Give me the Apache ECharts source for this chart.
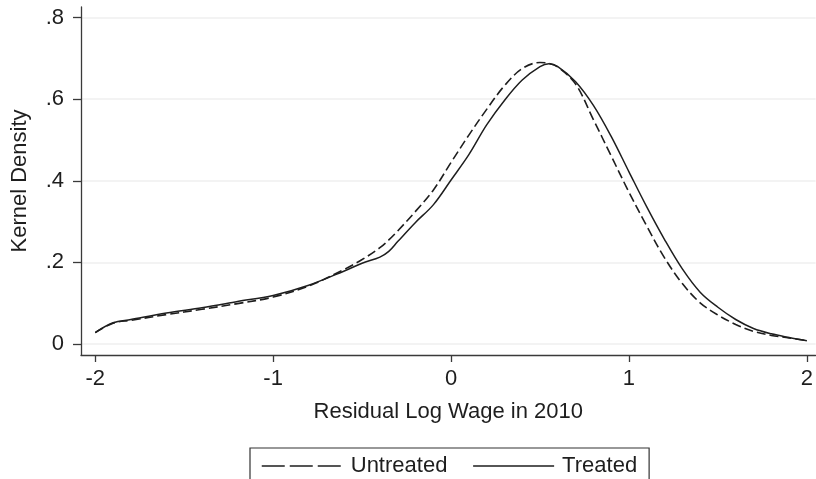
<!DOCTYPE html>
<html>
<head>
<meta charset="utf-8">
<title>Kernel Density of Residual Log Wage in 2010</title>
<script src="https://cdn.jsdelivr.net/npm/echarts@6/dist/echarts.min.js"></script>
<style>
  html, body { margin: 0; padding: 0; background: #ffffff; }
  #chart { width: 816px; height: 479px; }
</style>
</head>
<body>
<div id="chart"></div>
<script>
// Residual log wage grid (x) and kernel density estimates for each group
const wageGrid = [-2.0, -1.9, -1.8, -1.6, -1.4, -1.2, -1.0, -0.8, -0.6, -0.5, -0.4, -0.35, -0.3, -0.2, -0.1, 0.0,
  0.1, 0.2, 0.3, 0.4, 0.5, 0.55, 0.6, 0.7, 0.8, 0.9, 1.0, 1.1, 1.2, 1.3, 1.4, 1.5, 1.6, 1.7, 1.8, 1.9, 2.0];

const untreatedDensity = [0.028, 0.051, 0.058, 0.072, 0.085, 0.099, 0.115, 0.142, 0.183, 0.207, 0.236, 0.255, 0.277, 0.325, 0.377, 0.445,
  0.512, 0.575, 0.633, 0.675, 0.690, 0.688, 0.679, 0.637, 0.550, 0.461, 0.372, 0.289, 0.211, 0.148, 0.101, 0.071, 0.048, 0.031, 0.021, 0.015, 0.008];

const treatedDensity = [0.028, 0.052, 0.060, 0.076, 0.089, 0.104, 0.119, 0.144, 0.179, 0.198, 0.213, 0.227, 0.251, 0.298, 0.341, 0.402,
  0.464, 0.537, 0.597, 0.647, 0.680, 0.687, 0.680, 0.643, 0.585, 0.509, 0.422, 0.336, 0.256, 0.184, 0.127, 0.090, 0.060, 0.038, 0.025, 0.016, 0.008];

const xTicks = [-2, -1, 0, 1, 2];
const yTicks = [0, 0.2, 0.4, 0.6, 0.8];

const seriesNames = ['Untreated', 'Treated'];
const xTitle = 'Residual Log Wage in 2010';
const yTitle = 'Kernel Density';

const FONT = '"Liberation Sans", Arial, Helvetica, sans-serif';
const INK = '#1e1e1e';
const AXIS = '#3a3a3a';

function pairs(xs, ys) {
  return xs.map((x, i) => [x, ys[i]]);
}

function stataNumber(v) {
  // 0.2 -> ".2", 0 -> "0"
  if (v === 0) return '0';
  const s = String(Math.round(v * 10) / 10);
  return s.replace(/^0\./, '.').replace(/^-0\./, '-.');
}

const chart = echarts.init(document.getElementById('chart'), null, { renderer: 'canvas' });

// legend keys are plain line samples, without a marker in the middle
const hiddenMarker = { opacity: 0 };

chart.setOption({
  backgroundColor: '#ffffff',
  animation: false,
  textStyle: { fontFamily: FONT },
  grid: { left: 81, right: 0, top: 7, bottom: 124, containLabel: false },
  xAxis: {
    type: 'value',
    min: -2.08,
    max: 2.049,
    name: xTitle,
    nameLocation: 'middle',
    nameGap: 46,
    nameTextStyle: { fontSize: 22, color: INK, fontFamily: FONT },
    axisLine: { show: true, onZero: false, lineStyle: { color: AXIS, width: 1.3 } },
    axisTick: { show: true, length: 7, customValues: xTicks, lineStyle: { color: AXIS, width: 1.3 } },
    axisLabel: {
      show: true, customValues: xTicks, margin: 13, fontSize: 22, color: INK, fontFamily: FONT,
      formatter: v => String(v)
    },
    splitLine: { show: false }
  },
  yAxis: {
    type: 'value',
    min: -0.027,
    max: 0.826,
    name: yTitle,
    nameLocation: 'middle',
    nameRotate: 90,
    nameGap: 50,
    nameTextStyle: { fontSize: 22, color: INK, fontFamily: FONT },
    axisLine: { show: true, onZero: false, lineStyle: { color: AXIS, width: 1.3 } },
    axisTick: { show: true, length: 8, customValues: yTicks, lineStyle: { color: AXIS, width: 1.3 } },
    axisLabel: {
      show: true, customValues: yTicks, margin: 17, fontSize: 22, color: INK, fontFamily: FONT,
      formatter: v => stataNumber(v)
    },
    splitLine: { show: true, lineStyle: { color: '#efefef', width: 1.5 } }
  },
  legend: {
    left: 250,
    top: 448,
    orient: 'horizontal',
    padding: [7, 12, 30, 11],
    borderColor: '#333333',
    borderWidth: 1.2,
    itemGap: 25,
    itemWidth: 81,
    itemHeight: 14,
    textStyle: { fontSize: 22, color: INK, fontFamily: FONT, padding: [0, 0, 0, 3] },
    data: [
      { name: seriesNames[0], itemStyle: hiddenMarker, lineStyle: { type: [23, 5], width: 1.5, color: INK } },
      { name: seriesNames[1], itemStyle: hiddenMarker, lineStyle: { type: 'solid', width: 1.5, color: INK } }
    ]
  },
  series: [
    {
      name: seriesNames[0],
      type: 'line',
      data: pairs(wageGrid, untreatedDensity),
      smooth: 0.35,
      symbol: 'none',
      lineStyle: { color: INK, width: 1.6, type: [9, 4] },
      itemStyle: { color: INK },
      z: 3
    },
    {
      name: seriesNames[1],
      type: 'line',
      data: pairs(wageGrid, treatedDensity),
      smooth: 0.35,
      symbol: 'none',
      lineStyle: { color: INK, width: 1.5, type: 'solid' },
      itemStyle: { color: INK },
      z: 4
    }
  ]
});
</script>
</body>
</html>
